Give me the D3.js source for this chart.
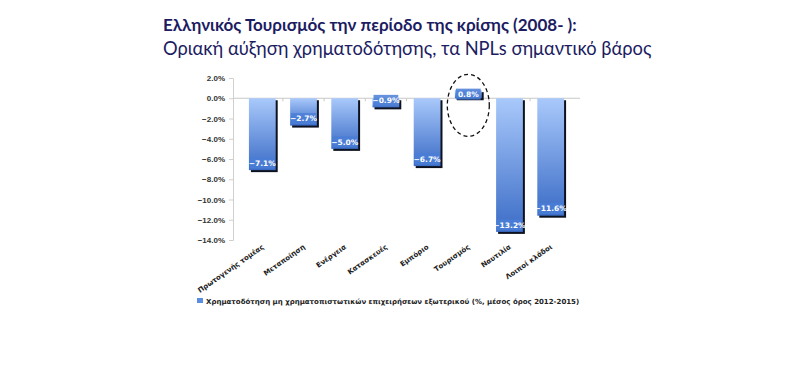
<!DOCTYPE html>
<html>
<head>
<meta charset="utf-8">
<script src="https://cdn.jsdelivr.net/npm/d3@7"></script>
<style>
  body { margin: 0; background: #fff; }
  svg { display: block; }
</style>
</head>
<body>
<script>
const width = 800;
const height = 370;

const sectors = ["Πρωτογενής τομέας", "Μεταποίηση", "Ενέργεια", "Κατασκευές",
  "Εμπόριο", "Τουρισμός", "Ναυτιλία", "Λοιποί κλάδοι"];
const financing = [-7.1, -2.7, -5.0, -0.9, -6.7, 0.8, -13.2, -11.6];
const yTicks = [2, 0, -2, -4, -6, -8, -10, -12, -14];
const legendLabel = "Χρηματοδότηση μη χρηματοπιστωτικών επιχειρήσεων εξωτερικού (%, μέσος όρος 2012-2015)";

const svg = d3.select("body").append("svg")
  .attr("width", width)
  .attr("height", height)
  .attr("font-family", "'DejaVu Sans', sans-serif");

// titles
svg.append("text")
  .attr("x", 163).attr("y", 31)
  .attr("font-family", "Lato, sans-serif")
  .attr("font-size", 17).attr("font-weight", "bold")
  .attr("fill", "#1c1c62")
  .text("Ελληνικός Τουρισμός την περίοδο της κρίσης (2008- ):");
svg.append("text")
  .attr("x", 163).attr("y", 55)
  .attr("font-family", "Lato, sans-serif")
  .attr("font-size", 18.3)
  .attr("fill", "#1c1c62")
  .text("Οριακή αύξηση χρηματοδότησης, τα NPLs σημαντικό βάρος");

const x = d3.scaleBand()
  .domain(sectors)
  .range([234.5, 578.5])
  .padding(0.35);

const y = d3.scaleLinear()
  .domain([2, -14])
  .range([78, 240]);

const defs = svg.append("defs");
const grad = defs.append("linearGradient")
  .attr("id", "barGrad")
  .attr("x1", 0).attr("y1", 0).attr("x2", 0).attr("y2", 1);
grad.append("stop").attr("offset", "0%").attr("stop-color", "#a9c9fb");
grad.append("stop").attr("offset", "100%").attr("stop-color", "#3b6cc6");

// y axis
const yAxis = svg.append("g")
  .attr("transform", "translate(233,0)")
  .call(d3.axisLeft(y).tickValues(yTicks).tickSize(4)
    .tickFormat(d => d3.format(".1f")(d) + "%"));
yAxis.select(".domain").attr("stroke", "#d0d0d0");
yAxis.selectAll(".tick line").attr("stroke", "#d0d0d0");
yAxis.selectAll(".tick text")
  .attr("font-size", 8).attr("font-weight", "bold").attr("fill", "#333")
  .attr("x", -8);

// zero line with category ticks
const xAxis = svg.append("g")
  .attr("transform", `translate(0,${y(0)})`);
xAxis.append("line")
  .attr("x1", 233).attr("x2", 580)
  .attr("stroke", "#c8c8c8");
xAxis.selectAll(".ctick")
  .data(sectors.slice(1))
  .join("line")
  .attr("x1", d => x(d) - x.step() * x.paddingInner() / 2)
  .attr("x2", d => x(d) - x.step() * x.paddingInner() / 2)
  .attr("y1", 0).attr("y2", 3)
  .attr("stroke", "#c8c8c8");

// bars
const bar = svg.append("g")
  .selectAll("g")
  .data(financing)
  .join("g");

bar.append("rect")
  .attr("x", (d, i) => x(sectors[i]) + 2)
  .attr("y", d => Math.min(y(d), y(0)) + 2)
  .attr("width", x.bandwidth())
  .attr("height", d => Math.abs(y(d) - y(0)))
  .attr("fill", "#0d1220");

bar.append("rect")
  .attr("x", (d, i) => x(sectors[i]))
  .attr("y", d => Math.min(y(d), y(0)))
  .attr("width", x.bandwidth())
  .attr("height", d => Math.abs(y(d) - y(0)))
  .attr("fill", "url(#barGrad)");

// value labels
const labelY = d => d < 0 ? y(d) - 7 : y(d) + 4;
bar.append("rect")
  .attr("x", (d, i) => x(sectors[i]) + 1)
  .attr("y", d => labelY(d) - 5.5)
  .attr("width", x.bandwidth() - 2)
  .attr("height", 11)
  .attr("fill", "#4a7ed6")
  .attr("opacity", 0.85);
bar.append("text")
  .attr("x", (d, i) => x(sectors[i]) + x.bandwidth() / 2)
  .attr("y", labelY)
  .attr("dy", "0.35em")
  .attr("text-anchor", "middle")
  .attr("font-size", 7.5).attr("font-weight", "bold")
  .attr("fill", "#fff")
  .text(d => d3.format(".1f")(d) + "%");

// category labels
svg.append("g")
  .selectAll("text")
  .data(sectors)
  .join("text")
  .attr("transform", d => `translate(${x(d) + x.bandwidth() / 2 + 2},${y(-14) + 8}) rotate(-35)`)
  .attr("text-anchor", "end")
  .attr("font-size", 7).attr("font-weight", "bold")
  .attr("fill", "#222")
  .text(d => d);

// highlight ellipse around Tourism
svg.append("ellipse")
  .attr("cx", x("Τουρισμός") + x.bandwidth() / 2)
  .attr("cy", y(-0.7))
  .attr("rx", 21)
  .attr("ry", 31)
  .attr("fill", "none")
  .attr("stroke", "#111")
  .attr("stroke-width", 1.3)
  .attr("stroke-dasharray", "4,3");

// legend
svg.append("rect")
  .attr("x", 197).attr("y", 298)
  .attr("width", 6).attr("height", 5)
  .attr("fill", "#5b8de0");
svg.append("text")
  .attr("x", 206).attr("y", 303.5)
  .attr("font-size", 7).attr("font-weight", "bold")
  .attr("fill", "#222")
  .text(legendLabel);
</script>
</body>
</html>
